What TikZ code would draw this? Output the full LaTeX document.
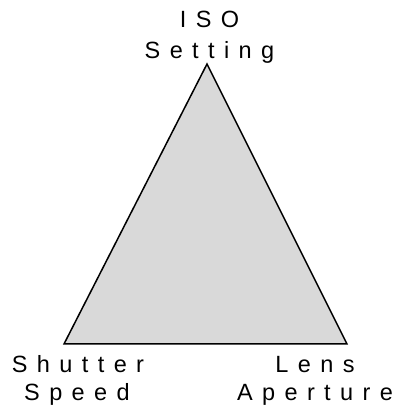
\documentclass[tikz,border=0pt]{standalone}
\usepackage{fontspec}
\setmainfont{Liberation Sans}
\newfontfamily\spaced[LetterSpace=40]{Liberation Sans}
\definecolor{trifill}{RGB}{217,217,217}
\begin{document}
\begin{tikzpicture}[x=1pt,y=1pt,
  lbl/.style={anchor=base,inner sep=0pt,font=\fontsize{23.5}{28}\spaced}]
\useasboundingbox (0,0) rectangle (398,405);
\coordinate (top) at (207,341);
\coordinate (bl) at (64,61);
\coordinate (br) at (347,61);
\filldraw[fill=trifill,draw=black,line width=1.5pt,line join=miter] (top) -- (bl) -- (br) -- cycle;
\node[lbl] (iso) at (209.5,377) {ISO};
\node[lbl] (setting) at (209.5,346) {Setting};
\node[lbl] (shutter) at (78,32) {Shutter};
\node[lbl] (speed) at (77,5) {Speed};
\node[lbl] (lens) at (315,32) {Lens};
\node[lbl] (aperture) at (315,5) {Aperture};
\end{tikzpicture}
\end{document}
